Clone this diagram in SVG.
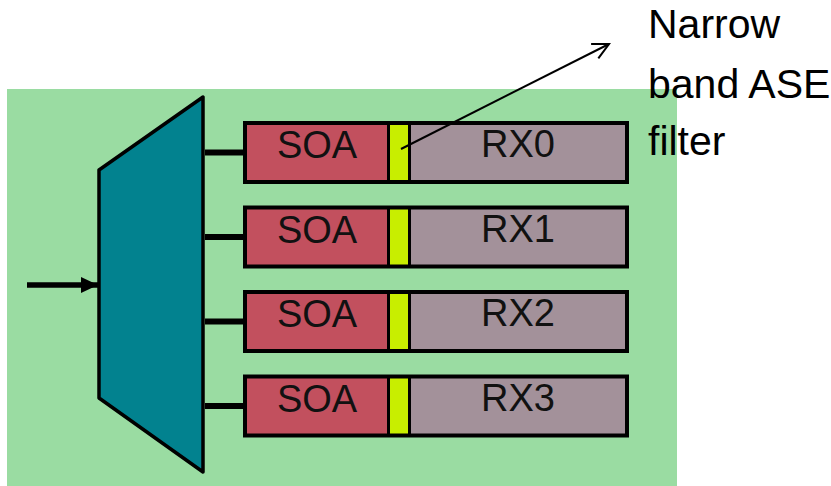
<svg xmlns="http://www.w3.org/2000/svg" width="831" height="486" viewBox="0 0 831 486">
<defs>
<style>
.box{stroke:#000;stroke-width:4}
.soa{fill:#C2505E}
.flt{fill:#C8EE00}
.rx{fill:#A3919A}
.lbl{font-family:"Liberation Sans",Arial,sans-serif;font-size:38px;fill:#111;text-anchor:middle}
.wire{stroke:#000;stroke-width:6;fill:none}
.note{font-family:"Liberation Sans",Arial,sans-serif;font-size:41px;fill:#000}
</style>
<marker id="openhead" viewBox="0 0 20 20" refX="18" refY="10" markerWidth="20" markerHeight="20" markerUnits="userSpaceOnUse" orient="auto">
<path d="M2,2 L18,10 L2,18" fill="none" stroke="#000" stroke-width="2"/>
</marker>
<marker id="solidhead" viewBox="0 0 17 16" refX="17" refY="8" markerWidth="17" markerHeight="16" markerUnits="userSpaceOnUse" orient="auto">
<path d="M0,0 L17,8 L0,16 Z" fill="#000"/>
</marker>
</defs>
<rect x="7" y="89" width="670" height="397" fill="#9ADCA2"/>
<g id="connectors">
<line class="wire" x1="205" y1="152.5" x2="245" y2="152.5"/>
<line class="wire" x1="205" y1="237" x2="245" y2="237"/>
<line class="wire" x1="205" y1="321.5" x2="245" y2="321.5"/>
<line class="wire" x1="205" y1="406" x2="245" y2="406"/>
<line x1="27" y1="285" x2="98" y2="285" stroke="#000" stroke-width="5.5" marker-end="url(#solidhead)"/>
</g>
<g id="demux">
<polygon points="203,97 203,472 99,398 99,170" fill="#02828F" stroke="#000" stroke-width="3.5" stroke-linejoin="round"/>
</g>
<g id="row0">
<rect class="box" x="245" y="123" width="382" height="59" fill="#000"/>
<rect class="soa" x="247" y="125" width="140" height="55"/>
<rect class="flt" x="390" y="125" width="18" height="55"/>
<rect class="rx" x="411" y="125" width="214" height="55"/>
<text class="lbl" x="317" y="158">SOA</text>
<text class="lbl" x="518" y="157">RX0</text>
</g>
<g id="row1">
<rect class="box" x="245" y="207.5" width="382" height="59" fill="#000"/>
<rect class="soa" x="247" y="209.5" width="140" height="55"/>
<rect class="flt" x="390" y="209.5" width="18" height="55"/>
<rect class="rx" x="411" y="209.5" width="214" height="55"/>
<text class="lbl" x="317" y="242.5">SOA</text>
<text class="lbl" x="518" y="241.5">RX1</text>
</g>
<g id="row2">
<rect class="box" x="245" y="292" width="382" height="59" fill="#000"/>
<rect class="soa" x="247" y="294" width="140" height="55"/>
<rect class="flt" x="390" y="294" width="18" height="55"/>
<rect class="rx" x="411" y="294" width="214" height="55"/>
<text class="lbl" x="317" y="327">SOA</text>
<text class="lbl" x="518" y="326">RX2</text>
</g>
<g id="row3">
<rect class="box" x="245" y="376.5" width="382" height="59" fill="#000"/>
<rect class="soa" x="247" y="378.5" width="140" height="55"/>
<rect class="flt" x="390" y="378.5" width="18" height="55"/>
<rect class="rx" x="411" y="378.5" width="214" height="55"/>
<text class="lbl" x="317" y="411.5">SOA</text>
<text class="lbl" x="518" y="410.5">RX3</text>
</g>
<g id="callout-line">
<line x1="401" y1="149" x2="609" y2="44" stroke="#000" stroke-width="2" marker-end="url(#openhead)"/>
</g>
<g id="callout-text">
<text class="note" x="648" y="38">Narrow</text>
<text class="note" x="648" y="98">band ASE</text>
<text class="note" x="648" y="155">filter</text>
</g>
</svg>
